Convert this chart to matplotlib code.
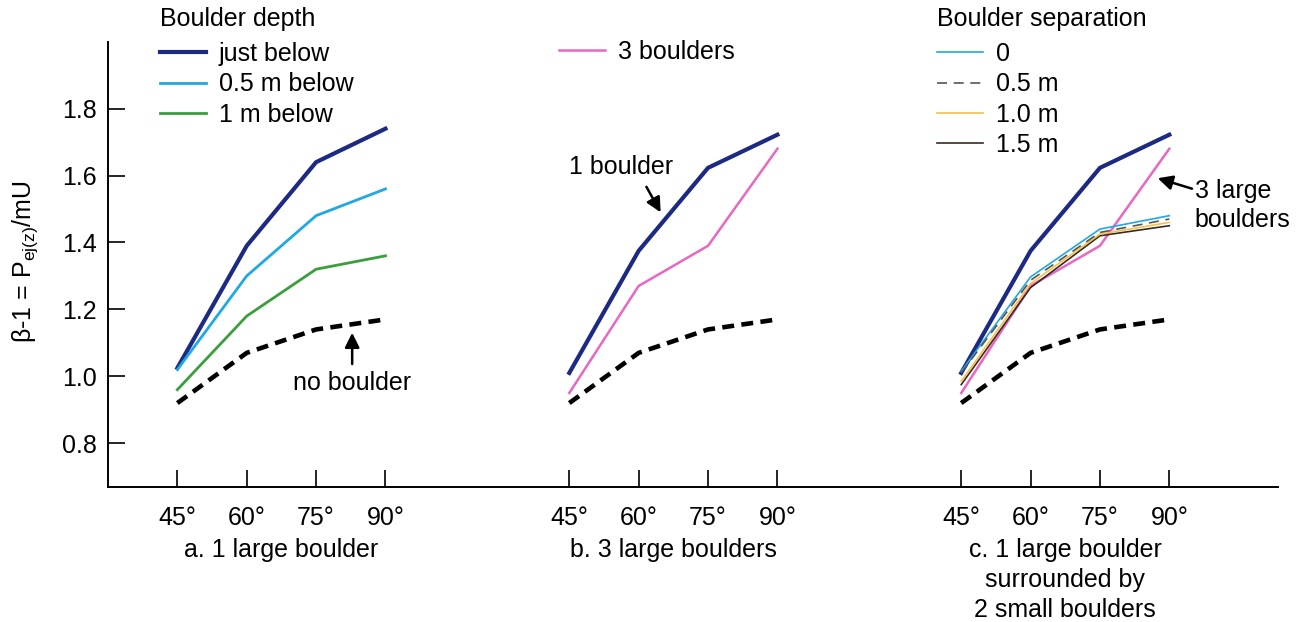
import matplotlib
matplotlib.use("Agg")
import matplotlib.pyplot as plt

plt.rcParams['font.family'] = ['Liberation Sans', 'DejaVu Sans']
plt.rcParams['mathtext.fontset'] = 'custom'
plt.rcParams['mathtext.rm'] = 'Liberation Sans'
plt.rcParams['font.size'] = 18

# Data
angles = [45, 60, 75, 90]
panel_offsets = [0, 84.75, 169.5]
panel_titles = ["a. 1 large boulder", "b. 3 large boulders",
                "c. 1 large boulder\nsurrounded by\n2 small boulders"]

no_boulder = [0.92, 1.07, 1.14, 1.17]

# panel a - boulder depth
just_below = [1.025, 1.39, 1.64, 1.74]
half_m_below = [1.02, 1.30, 1.48, 1.56]
one_m_below = [0.96, 1.18, 1.32, 1.36]

# panel b / c
one_boulder = [1.01, 1.375, 1.623, 1.722]
three_boulders = [0.95, 1.27, 1.39, 1.68]

# panel c - boulder separation
sep_labels = ["0", "0.5 m", "1.0 m", "1.5 m"]
sep_0 = [1.015, 1.297, 1.44, 1.48]
sep_05 = [1.01, 1.287, 1.43, 1.47]
sep_10 = [0.985, 1.277, 1.425, 1.46]
sep_15 = [0.975, 1.265, 1.42, 1.45]

navy = '#1c2a84'
lblue = '#1fa8e4'
green = '#3a9e3c'
pink = '#e767c3'
orange = '#f6c04c'
brown = '#3a2a22'
grey = '#555555'
dash_nb = (0, (2.6, 1.6))


def xs(panel):
    return [a + panel_offsets[panel] for a in angles]


fig = plt.figure(figsize=(13.04, 6.22), dpi=100)
ax = fig.add_axes([108 / 1304, 1 - 486.7 / 622, 1170 / 1304, 445 / 622])

# panel a
ax.plot(xs(0), no_boulder, color='k', lw=3.3, ls=dash_nb)
l_just, = ax.plot(xs(0), just_below, color=navy, lw=3.0, label='just below')
l_half, = ax.plot(xs(0), half_m_below, color=lblue, lw=2.0, label='0.5 m below')
l_one, = ax.plot(xs(0), one_m_below, color=green, lw=2.0, label='1 m below')

# panel b
ax.plot(xs(1), no_boulder, color='k', lw=3.3, ls=dash_nb)
ax.plot(xs(1), one_boulder, color=navy, lw=3.0)
l_three, = ax.plot(xs(1), three_boulders, color=pink, lw=1.8, label='3 boulders')

# panel c
ax.plot(xs(2), no_boulder, color='k', lw=3.3, ls=dash_nb)
ax.plot(xs(2), one_boulder, color=navy, lw=3.0)
ax.plot(xs(2), three_boulders, color=pink, lw=1.8)
s0, = ax.plot(xs(2), sep_0, color=lblue, lw=1.2, label=sep_labels[0])
s15, = ax.plot(xs(2), sep_15, color=brown, lw=1.2, label=sep_labels[3])
s10, = ax.plot(xs(2), sep_10, color=orange, lw=1.2, label=sep_labels[2])
s05, = ax.plot(xs(2), sep_05, color=grey, lw=1.2, ls=(0, (6, 4)), label=sep_labels[1])

ax.set_xlim(30, 283)
ax.set_ylim(0.67, 2.0)
for s in ['top', 'right']:
    ax.spines[s].set_visible(False)
for s in ['left', 'bottom']:
    ax.spines[s].set_linewidth(1.4)

ax.set_yticks([0.8, 1.0, 1.2, 1.4, 1.6, 1.8])
ax.set_yticklabels(['0.8', '1.0', '1.2', '1.4', '1.6', '1.8'])
xticks = xs(0) + xs(1) + xs(2)
ax.set_xticks(xticks)
ax.set_xticklabels([f"{a}°" for a in angles] * 3)
ax.tick_params(axis='both', direction='in', length=12, width=1.2, labelsize=18)
ax.tick_params(axis='x', pad=14)
ax.tick_params(axis='y', pad=8)

# panel captions
for i, t in enumerate(panel_titles):
    ax.text(67.5 + panel_offsets[i], -0.115, t, transform=ax.get_xaxis_transform(),
            ha='center', va='top', fontsize=18, linespacing=1.32)

fig.text(25 / 1304, 1 - 262 / 622, r'β-1 = P$_\mathregular{ej(z)}$/mU',
         rotation=90, ha='center', va='center', fontsize=18)

# annotations
ax.annotate('no boulder', xy=(82.8, 1.13), xytext=(82.8, 0.98),
            ha='center', va='center', fontsize=18,
            arrowprops=dict(arrowstyle='-|>', color='k', lw=1.8,
                            mutation_scale=22, shrinkA=3, shrinkB=0))
ax.annotate('1 boulder', xy=(149.5, 1.49), xytext=(141.0, 1.625),
            ha='center', va='center', fontsize=18,
            arrowprops=dict(arrowstyle='-|>', color='k', lw=1.8,
                            mutation_scale=22, shrinkA=4, shrinkB=0,
                            relpos=(0.7, 0)))
ax.annotate('3 large\nboulders', xy=(257.0, 1.592), xytext=(265.0, 1.51),
            ha='left', va='center', fontsize=18, linespacing=1.3,
            arrowprops=dict(arrowstyle='-|>', color='k', lw=1.8,
                            mutation_scale=22, shrinkA=0, shrinkB=0,
                            relpos=(0, 0.8)))

leg_kw = dict(frameon=False, fontsize=18, handlelength=1.85, handletextpad=0.5,
              labelspacing=0.25, borderpad=0, borderaxespad=0, loc='upper left',
              bbox_transform=fig.transFigure, alignment='left',
              title_fontsize=18)

leg1 = ax.legend(handles=[l_just, l_half, l_one], title='Boulder depth',
                 bbox_to_anchor=(160 / 1304, 1 - 7 / 622), **leg_kw)
leg1._legend_box.sep = 8
ax.add_artist(leg1)
leg2 = ax.legend(handles=[l_three],
                 bbox_to_anchor=(559 / 1304, 1 - 40 / 622), **leg_kw)
ax.add_artist(leg2)
leg3 = ax.legend(handles=[s0, s05, s10, s15], title='Boulder separation',
                 bbox_to_anchor=(937 / 1304, 1 - 7 / 622), **leg_kw)
leg3._legend_box.sep = 8

fig.savefig('out.png', dpi=100)
